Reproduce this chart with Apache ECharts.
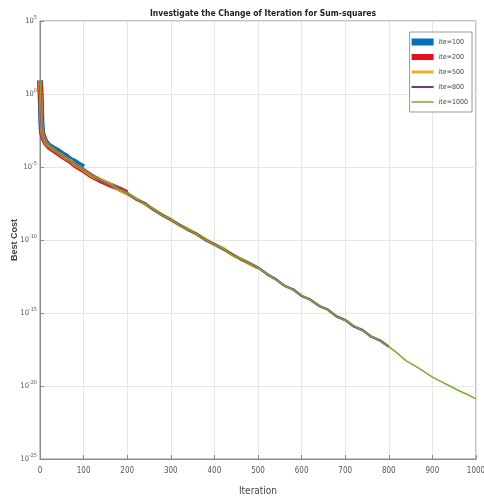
<!DOCTYPE html>
<html>
<head>
<meta charset="utf-8">
<script src="https://cdn.jsdelivr.net/npm/echarts@6/dist/echarts.min.js"></script>
<style>html,body{margin:0;padding:0;background:#fff}#c{width:484px;height:497px}</style>
</head>
<body>
<div id="c"></div>
<script>
const titleText = 'Investigate the Change of Iteration for Sum-squares';
const xName = 'Iteration';
const yName = 'Best Cost';
const seriesNames = ['ite=100', 'ite=200', 'ite=500', 'ite=800', 'ite=1000'];
const seriesColors = ['#0072BD', '#E8101A', '#EDB120', '#7E2F8E', '#77AC30'];

const iterEarly = [0,1,2,3,4,5,8,12,20,30,40,50,60,70,80,90,100];
const iterLate = [120,140,160,180,200,220,240,260,280,300,320,340,360,380,400,420,440,460,480,500,
  520,540,560,580,600,620,640,660,680,700,720,740,760,780,800,
  820,840,860,880,900,920,940,960,980,1000];

const cost100 = [8.5, 6.6, 3.0e-1, 1.7e-2, 4.3e-3, 2.1e-3, 1.1e-3, 5.6e-4, 2.9e-4, 1.9e-4, 1.3e-4, 8.0e-5, 5.3e-5, 3.1e-5, 2.2e-5, 1.4e-5, 9.5e-6];
const cost200 = [7.9, 6.0, 3.4e-1, 1.5e-2, 3.8e-3, 1.9e-3, 9.2e-4, 4.6e-4, 2.3e-4, 1.4e-4, 9.0e-5, 5.6e-5, 3.5e-5, 2.3e-5, 1.3e-5, 8.5e-6, 5.6e-6,
  2.2e-6, 1.1e-6, 6.0e-7, 3.4e-7, 1.7e-7];
const cost500 = [8.1, 6.2, 3.1e-1, 1.6e-2, 4.0e-3, 2.0e-3, 1.0e-3, 5.0e-4, 2.5e-4, 1.6e-4, 1.0e-4, 6.4e-5, 3.9e-5, 2.6e-5, 1.5e-5, 1.0e-5, 6.2e-6,
  2.4e-6, 1.3e-6, 6.6e-7, 3.0e-7, 1.5e-7, 6.8e-8, 3.0e-8, 1.3e-8, 5.3e-9, 2.6e-9, 1.0e-9, 5.4e-10, 2.4e-10, 1.1e-10, 4.8e-11, 2.6e-11, 1.0e-11, 5.2e-12, 2.4e-12, 1.2e-12];
const cost800 = [7.7, 6.4, 3.2e-1, 1.6e-2, 4.1e-3, 2.0e-3, 9.8e-4, 5.1e-4, 2.4e-4, 1.6e-4, 1.0e-4, 6.2e-5, 4.1e-5, 2.4e-5, 1.6e-5, 1.0e-5, 6.4e-6,
  2.6e-6, 1.2e-6, 6.1e-7, 3.3e-7, 1.6e-7, 6.1e-8, 3.4e-8, 1.2e-8, 5.1e-9, 2.4e-9, 1.1e-9, 4.8e-10, 2.6e-10, 9.6e-11, 5.2e-11, 2.4e-11, 1.1e-11, 4.8e-12, 2.6e-12, 1.3e-12,
  4.8e-13, 2.1e-13, 7.6e-14, 4.2e-14, 1.5e-14, 8.2e-15, 3.1e-15, 1.7e-15, 6.0e-16, 3.3e-16, 1.2e-16, 6.6e-17, 2.4e-17, 1.3e-17, 4.8e-18];
const cost1000 = [8.0, 6.3, 3.2e-1, 1.6e-2, 4.0e-3, 2.0e-3, 1.0e-3, 5.0e-4, 2.5e-4, 1.6e-4, 1.0e-4, 6.3e-5, 4.0e-5, 2.5e-5, 1.6e-5, 1.0e-5, 6.3e-6,
  2.5e-6, 1.3e-6, 6.4e-7, 3.1e-7, 1.6e-7, 6.5e-8, 3.1e-8, 1.3e-8, 4.9e-9, 2.5e-9, 1.0e-9, 5.1e-10, 2.5e-10, 1.0e-10, 5.0e-11, 2.5e-11, 1.0e-11, 5.0e-12, 2.5e-12, 1.3e-12,
  5.1e-13, 2.0e-13, 8.0e-14, 3.9e-14, 1.6e-14, 7.8e-15, 3.2e-15, 1.6e-15, 6.4e-16, 3.1e-16, 1.3e-16, 6.2e-17, 2.5e-17, 1.2e-17, 5.0e-18,
  1.7e-18, 5.3e-19, 2.4e-19, 1.0e-19, 4.1e-20, 2.0e-20, 1.0e-20, 4.9e-21, 2.6e-21, 1.3e-21];

const allCosts = [cost100, cost200, cost500, cost800, cost1000];
const lineWidths = [6, 5, 3.5, 2.5, 1.5];
const iconHeights = [7, 6, 3, 2, 1.5];
const allIters = iterEarly.concat(iterLate);

const font = "'Liberation Sans Narrow', 'DejaVu Sans Condensed', 'Liberation Sans', Arial, sans-serif";

function barIcon(h) {
  const t = (8 - h) / 2, b = t + h;
  return 'path://M0,0 M22,8 M0,' + t + ' L22,' + t + ' L22,' + b + ' L0,' + b + ' Z';
}

const chart = echarts.init(document.getElementById('c'), null, {renderer: 'canvas'});
chart.setOption({
  animation: false,
  backgroundColor: '#fff',
  title: {
    text: titleText,
    left: 258, top: 4, textAlign: 'center',
    textStyle: {fontFamily: font, fontSize: 8.5, fontWeight: 'bold', color: '#222'}
  },
  grid: {left: 40, right: 8, top: 21, bottom: 38, show: true, borderColor: '#8a8a8a', borderWidth: 1, outerBoundsMode: 'none'},
  legend: {
    orient: 'vertical', right: 12, top: 32,
    backgroundColor: '#fff', borderColor: '#999', borderWidth: 1,
    padding: [6, 4, 6, 2], itemWidth: 22, itemHeight: 8, itemGap: 7,
    textStyle: {fontFamily: font, fontSize: 7, color: '#444'},
    data: seriesNames.map(function (n, i) { return {name: n, icon: barIcon(iconHeights[i])}; })
  },
  xAxis: {
    type: 'value', min: 0, max: 1000, interval: 100,
    name: xName, nameLocation: 'middle', nameGap: 27, nameMoveOverlap: false,
    nameTextStyle: {fontFamily: font, fontSize: 10, color: '#444'},
    axisLine: {lineStyle: {color: '#8a8a8a'}},
    axisTick: {inside: true, length: 4, lineStyle: {color: '#8a8a8a'}},
    axisLabel: {fontFamily: font, fontSize: 8, color: '#555', margin: 8, formatter: function (v) { return String(v); }},
    splitLine: {show: true, lineStyle: {color: '#e6e6e6'}}
  },
  yAxis: {
    type: 'log', logBase: 1e5, max: 1e5, interval: 1,
    name: yName, nameLocation: 'middle', nameGap: 21, nameMoveOverlap: false,
    nameTextStyle: {fontFamily: 'Liberation Sans, Arial, sans-serif', fontSize: 9, fontWeight: 'bold', color: '#444'},
    axisLine: {lineStyle: {color: '#8a8a8a'}},
    axisTick: {inside: true, length: 4, lineStyle: {color: '#8a8a8a'}},
    axisLabel: {
      fontFamily: font, fontSize: 7.5, color: '#555', margin: 3,
      formatter: function (v) { return '10{s|' + Math.round(Math.log10(v)) + '}'; },
      rich: {s: {fontFamily: font, fontSize: 5.5, color: '#555', padding: [0, 0, 6, 0]}}
    },
    splitLine: {show: true, lineStyle: {color: '#e6e6e6'}}
  },
  series: allCosts.map(function (c, i) {
    return {
      name: seriesNames[i], type: 'line', showSymbol: false, symbol: 'none',
      color: seriesColors[i],
      lineStyle: {width: lineWidths[i], color: seriesColors[i]},
      data: c.map(function (v, k) { return [allIters[k], v]; }),
      z: 2 + i
    };
  })
});
</script>
</body>
</html>
